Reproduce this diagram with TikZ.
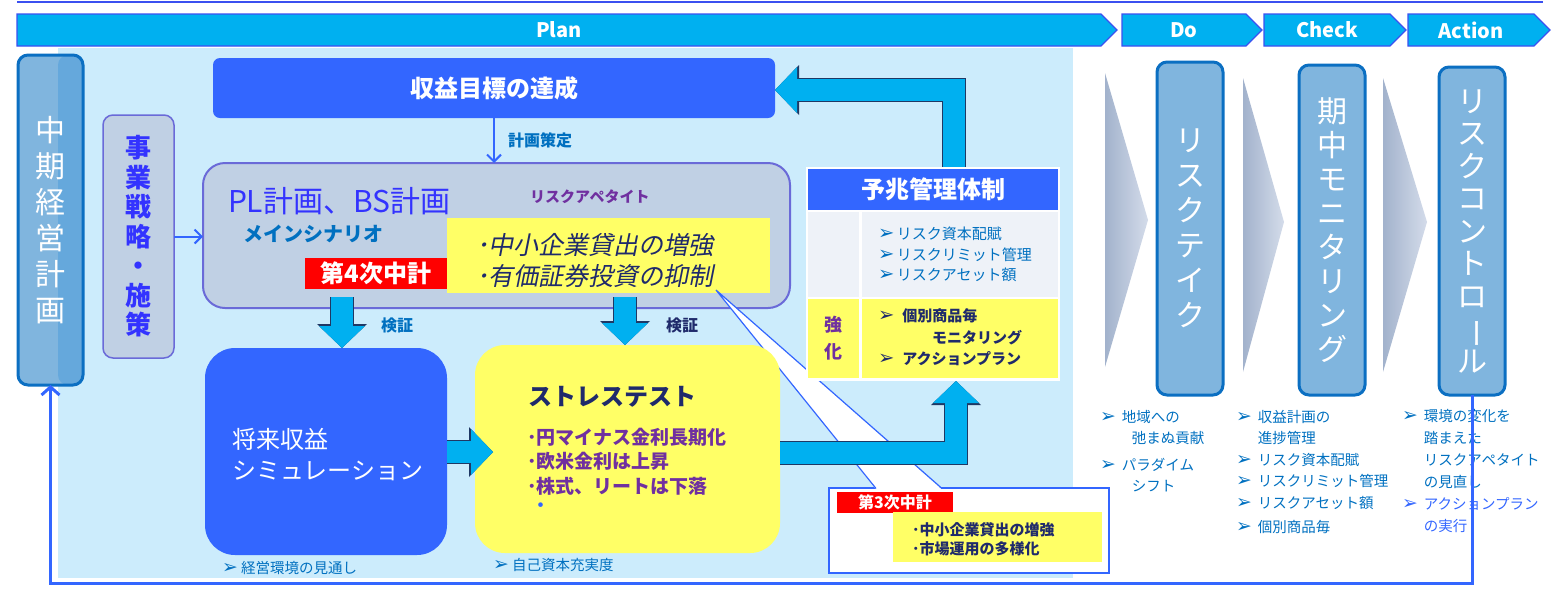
\documentclass[tikz,border=0pt]{standalone}
\usepackage{fontspec}
\setmainfont{Noto Sans CJK JP}[AutoFakeSlant=0.2]
\newfontfamily\symfont{DejaVu Sans}
\usetikzlibrary{shapes.symbols,arrows.meta,calc,positioning}

\definecolor{headcyan}{HTML}{00B0F0}
\definecolor{headline}{HTML}{3B50F0}
\definecolor{panelblue}{HTML}{CCECFC}
\definecolor{royal}{HTML}{3366FF}
\definecolor{plgray}{HTML}{C0D0E4}
\definecolor{plline}{HTML}{6A6AD8}
\definecolor{plblue}{HTML}{3333FF}
\definecolor{lemon}{HTML}{FFFF66}
\definecolor{inknavy}{HTML}{1F2A6B}
\definecolor{riskpurple}{HTML}{7030A0}
\definecolor{textblue}{HTML}{0070C0}
\definecolor{steel}{HTML}{80B5DE}
\definecolor{steeldark}{HTML}{65A8DC}
\definecolor{steelline}{HTML}{0B6FC2}
\definecolor{arrcyan}{HTML}{00B0F0}
\definecolor{arrnavy}{HTML}{1F3864}
\definecolor{cellgray}{HTML}{EEF2F8}
\definecolor{chevdark}{HTML}{A2B2CC}
\definecolor{chevlight}{HTML}{D4DCEA}

\newcommand{\fsz}[2]{\fontsize{#1}{#2}\selectfont}
\newcommand{\arrowbul}{\scalebox{1.3}{\symfont ➢}}

\begin{document}
\begin{tikzpicture}[x=1pt, y=-1pt,
    every node/.style={inner sep=0pt, outer sep=0pt},
    phase/.style={signal, signal to=east, anchor=west, minimum height=32pt,
      fill=headcyan, draw=headline, line width=1.2pt, text=white, font=\fsz{20}{24}\bfseries},
    card/.style={rectangle, anchor=north west},
    stepbox/.style={card, rounded corners=10pt, fill=steel, draw=steelline, line width=3pt,
      minimum width=66pt, text=white, align=center},
    chev/.style={left color=chevdark, right color=chevlight},
    thinarrow/.style={draw=royal, line width=2pt, -{Straight Barb[length=7pt,width=14pt]}},
    barrow/.style={draw=arrcyan, line width=22pt, line join=miter,
      -{Triangle[width=46pt,length=22pt,line width=0pt]},
      preaction={draw=arrnavy, line width=24.5pt, -{Triangle[width=50pt,length=24pt,line width=0pt]}}},
    note/.style={anchor=north west, text=textblue, font=\fsz{14.5}{21.5}},
  ]
\useasboundingbox (0,0) rectangle (1557,590);

% header bar
\draw[headline, line width=2.5pt] (17,2) -- (1543,2);
\node[phase, minimum width=1100pt] (plan) at (17,30) {Plan};
\node[phase, minimum width=140pt] (do) at (1122,30) {Do};
\node[phase, minimum width=142pt] (check) at (1264,30) {Check};
\node[phase, minimum width=142pt] (act) at (1408,30) {Action};

% plan area
\node[card, fill=panelblue, minimum width=1015pt, minimum height=530pt] (panel) at (58,48) {};

\node[stepbox, minimum width=65pt, minimum height=330pt, font=\fsz{30}{36},
  path picture={\fill[steeldark] (panel.west |- path picture bounding box.north) rectangle (path picture bounding box.south east);}]
  (mid) at (18,55) {中\\期\\経\\営\\計\\画};
\node[card, rounded corners=10pt, fill=plgray, draw=plline, line width=1.5pt, minimum width=71pt,
  minimum height=243pt, text=plblue, align=center, font=\fsz{26}{29.5}\bfseries]
  (jigyo) at (103,115) {事\\業\\戦\\略\\・\\施\\策};

\node[card, rounded corners=7pt, fill=royal, minimum width=562pt, minimum height=60pt,
  text=white, font=\fsz{24}{28}\bfseries] (goal) at (213,58) {収益目標の達成};

\node[card, rounded corners=22pt, fill=plgray, draw=plline, line width=2pt,
  minimum width=587pt, minimum height=145pt] (pl) at (203,163) {};
\node[anchor=west, text=plblue, font=\fsz{30}{34}] (pltitle) at (228,201) {PL計画、BS計画};
\node[anchor=west, text=riskpurple, font=\fsz{15}{18}\bfseries] (appetite) at (530,197) {リスクアペタイト};
\node[anchor=west, text=textblue, font=\fsz{20}{24}\bfseries\itshape] (mainsc) at (243,234) {メインシナリオ};
\node[card, fill=lemon, minimum width=323pt, minimum height=75pt] (plyellow) at (447,218) {};
\node[anchor=west, text=inknavy, align=left, font=\fsz{25}{31}\itshape] (pllines) at (476,260)
  {･中小企業貸出の増強\\･有価証券投資の抑制};
\node[card, fill=red, minimum width=142pt, minimum height=31pt, text=white,
  font=\fsz{24}{28}\bfseries] (plan4) at (305,258) {第4次中計};

\draw[thinarrow] (goal.south) -- (goal.south |- pl.north)
  node[midway, right=14pt, text=textblue, font=\fsz{16}{18}\bfseries] {計画策定};
\draw[thinarrow] (jigyo.east) -- (jigyo.east -| pl.west);

% callout of the 3rd plan
\node[card, fill=white, draw=royal, line width=1.5pt, minimum width=280pt, minimum height=85pt] (callout) at (829,488) {};
\fill[white] (716,290) -- (876,489.5) -- (942,489.5) -- cycle;
\draw[royal, line width=1.2pt] (876,488.5) -- (716,290) -- (942,488.5);
\node[card, fill=red, minimum width=116pt, minimum height=21pt, text=white,
  font=\fsz{16}{18}\bfseries] (plan3) at (837,492) {第3次中計};
\node[card, fill=lemon, minimum width=209pt, minimum height=50pt] (callyellow) at (893,512) {};
\node[anchor=west, text=inknavy, align=left, font=\fsz{15}{19.5}\bfseries\itshape] (calllines) at (912,539.5)
  {･中小企業貸出の増強\\･市場運用の多様化};

% simulation and stress test
\node[card, rounded corners=30pt, fill=royal, minimum width=242pt, minimum height=207pt] (sim) at (205,348) {};
\node[anchor=west, text=white, align=left, font=\fsz{24}{31}] (simtext) at (232,455) {将来収益\\シミュレーション};
\node[card, rounded corners=30pt, fill=lemon, minimum width=305pt, minimum height=208pt] (stress) at (475,345) {};
\node[anchor=west, text=inknavy, font=\fsz{24}{28}\bfseries\itshape] (stresstitle) at (528,397) {ストレステスト};
\node[anchor=north west, text=riskpurple, align=left, font=\fsz{19}{24.5}\bfseries] (stresslines) at (527,428)
  {･円マイナス金利長期化\\･欧米金利は上昇\\･株式、リートは下落};
\node[text=royal, font=\fsz{22}{24}\bfseries] (stressdot) at (541,508) {･};
\node[anchor=west, text=textblue, font=\fsz{14.5}{16}] (simnote) at (222,568) {\arrowbul\ 経営環境の見通し};
\node[anchor=west, text=textblue, font=\fsz{14.5}{16}] (stressnote) at (493,565) {\arrowbul\ 自己資本充実度};

% early warning table
\node[card, fill=white, minimum width=254pt, minimum height=214pt] (yochou) at (806,167) {};
\node[card, fill=royal, minimum width=250pt, minimum height=41pt, text=white,
  font=\fsz{24}{28}\bfseries] (yhead) at (808,169) {予兆管理体制};
\node[card, fill=cellgray, minimum width=51pt, minimum height=85pt] (ygl) at (808,212) {};
\node[card, fill=cellgray, minimum width=196pt, minimum height=85pt] (ygr) at (862,212) {};
\node[card, fill=lemon, minimum width=51pt, minimum height=79pt] (yyl) at (808,299) {};
\node[card, fill=lemon, minimum width=196pt, minimum height=79pt] (yyr) at (862,299) {};
\node[anchor=north west, text=textblue, align=left, font=\fsz{15}{20.5}] (ygtext) at (878,227)
  {\arrowbul\,リスク資本配賦\\\arrowbul\,リスクリミット管理\\\arrowbul\,リスクアセット額};
\node[text=riskpurple, align=center, font=\fsz{18}{27}\bfseries] (kyoka) at (yyl.center) {強\\化};
\node[anchor=north west, text=inknavy, align=left, font=\fsz{15}{21.5}\bfseries\itshape] (yytext) at (878,309)
  {\arrowbul\hspace{8pt}個別商品毎\\\hspace*{54pt}モニタリング\\\arrowbul\hspace{8pt}アクションプラン};

% block arrows
\coordinate (v1) at (342,0);
\coordinate (v2) at (625,0);
\coordinate (h1) at (493,452);
\coordinate (e1) at (956,453);
\coordinate (e2) at (954,90);
\draw[barrow] ($(pl.south -| v1)+(0,-11)$) -- (sim.north -| v1);
\draw[barrow] ($(pl.south -| v2)+(0,-11)$) -- (stress.north -| v2);
\draw[barrow] (sim.east |- h1) -- (h1);
\draw[barrow] (stress.east |- e1) -| (yochou.south -| e1);
\draw[barrow] (yochou.north -| e2) |- (goal.east |- e2);
\node[text=textblue, font=\fsz{16}{18}\bfseries] (check1) at (397,325) {検証};
\node[text=inknavy, font=\fsz{16}{18}\bfseries] (check2) at (682,325) {検証};

% do / check / action
\shade[chev] (1105,73) -- (1148,220) -- (1105,367) -- cycle;
\shade[chev] (1243,78) -- (1284,222) -- (1243,372) -- cycle;
\shade[chev] (1383,78) -- (1427,222) -- (1383,372) -- cycle;

\node[stepbox, minimum height=333pt, font=\fsz{30}{35}] (take) at (1157,62) {リ\\ス\\ク\\テ\\イ\\ク};
\node[stepbox, minimum height=330pt, font=\fsz{30}{34}] (mon) at (1299,65) {期\\中\\モ\\ニ\\タ\\リ\\ン\\グ};
\node[stepbox, minimum height=328pt, font=\fsz{30}{32.5}] (ctrl) at (1439,67)
  {リ\\ス\\ク\\コ\\ン\\ト\\ロ\\\rotatebox[origin=c]{-90}{ー}\\ル};

\node[note] (donote) at (1100,407) {\begin{tabular}{@{}l@{\hspace{6pt}}l@{}}
  \arrowbul & 地域への\\ & \hspace{10pt}弛まぬ貢献\\[5pt]
  \arrowbul & パラダイム\\ & \hspace{10pt}シフト\end{tabular}};
\node[note] (checknote) at (1236,407) {\begin{tabular}{@{}l@{\hspace{6pt}}l@{}}
  \arrowbul & 収益計画の\\ & 進捗管理\\
  \arrowbul & リスク資本配賦\\
  \arrowbul & リスクリミット管理\\
  \arrowbul & リスクアセット額\\[3pt]
  \arrowbul & 個別商品毎\end{tabular}};
\node[note, font=\fsz{14.5}{22}] (actnote) at (1402,406) {\begin{tabular}{@{}l@{\hspace{6pt}}l@{}}
  \arrowbul & 環境の変化を\\ & 踏まえた\\ & リスクアペタイト\\ & の見直し\\
  \color{royal}\arrowbul & \color{royal}アクションプラン\\ & \color{royal}の実行\end{tabular}};

% feedback loop
\draw[royal, line width=3pt, -{Straight Barb[length=8pt,width=18pt]}]
  (ctrl.south) -- ++(0,188) -| (mid.south);
\end{tikzpicture}
\end{document}
